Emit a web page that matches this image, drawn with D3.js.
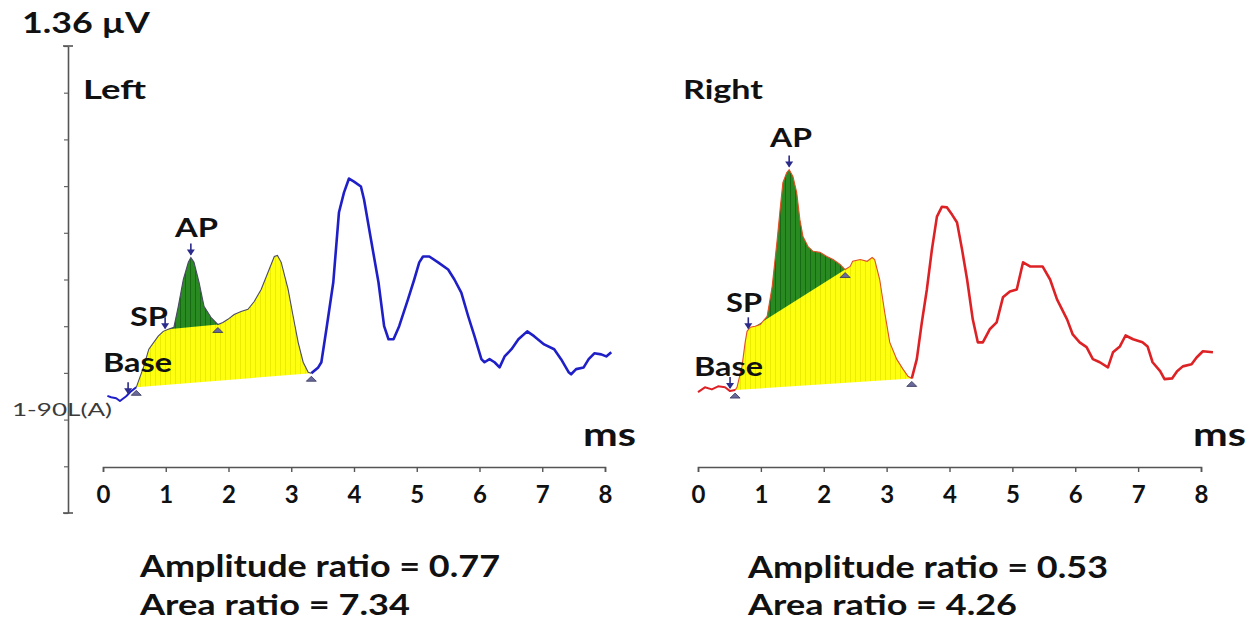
<!DOCTYPE html>
<html><head><meta charset="utf-8">
<script src="https://cdn.jsdelivr.net/npm/d3@7/dist/d3.min.js"></script>
<style>body{margin:0;background:#fff}svg{display:block}</style>
</head><body>
<svg id="chart" width="1253" height="622"></svg>
<script>
// ---- data (time in ms, amplitude in µV) ----
const leftTime = [0.07,0.13,0.21,0.27,0.37,0.45,0.53,0.65,0.73,0.88,0.96,1.04,1.13,1.20,1.28,1.36,1.40,1.45,1.53,1.61,1.72,1.83,1.91,1.99,2.09,2.20,2.31,2.41,2.52,2.63,2.73,2.78,2.84,2.95,3.03,3.11,3.19,3.27,3.32,3.43,3.48,3.56,3.67,3.76,3.84,3.92,4.00,4.11,4.16,4.27,4.39,4.48,4.55,4.63,4.72,4.86,4.96,5.04,5.10,5.20,5.34,5.50,5.60,5.71,5.82,5.92,6.03,6.08,6.16,6.24,6.32,6.40,6.51,6.62,6.76,6.87,7.03,7.19,7.30,7.42,7.46,7.54,7.66,7.74,7.83,7.94,8.02,8.10];
const leftAmp = [0.341,0.337,0.334,0.326,0.340,0.355,0.366,0.427,0.477,0.515,0.529,0.535,0.541,0.602,0.680,0.730,0.744,0.730,0.672,0.602,0.570,0.549,0.555,0.564,0.578,0.587,0.593,0.616,0.651,0.701,0.747,0.750,0.730,0.651,0.573,0.497,0.439,0.410,0.407,0.424,0.439,0.535,0.672,0.875,0.933,0.974,0.965,0.951,0.913,0.797,0.672,0.544,0.506,0.506,0.544,0.622,0.680,0.730,0.747,0.747,0.730,0.709,0.680,0.642,0.573,0.515,0.448,0.439,0.448,0.439,0.424,0.456,0.477,0.506,0.529,0.515,0.491,0.477,0.448,0.410,0.404,0.419,0.424,0.448,0.465,0.462,0.456,0.468];

const rightTime = [0.00,0.11,0.22,0.32,0.43,0.51,0.59,0.62,0.70,0.75,0.78,0.83,0.91,0.99,1.10,1.18,1.26,1.31,1.35,1.41,1.45,1.51,1.57,1.62,1.67,1.75,1.83,1.94,2.05,2.15,2.26,2.34,2.42,2.46,2.58,2.69,2.77,2.81,2.89,2.97,3.05,3.16,3.26,3.34,3.40,3.48,3.56,3.64,3.72,3.80,3.88,3.96,4.04,4.12,4.20,4.28,4.37,4.45,4.53,4.64,4.75,4.85,4.96,5.07,5.17,5.28,5.39,5.48,5.60,5.71,5.87,5.96,6.07,6.18,6.28,6.39,6.52,6.60,6.71,6.80,6.92,7.07,7.15,7.23,7.35,7.42,7.54,7.62,7.71,7.85,7.93,8.03,8.19];
const rightAmp = [0.352,0.366,0.360,0.369,0.366,0.355,0.358,0.366,0.427,0.497,0.529,0.541,0.544,0.549,0.573,0.660,0.797,0.892,0.962,0.991,1.000,0.980,0.933,0.855,0.805,0.776,0.762,0.759,0.747,0.738,0.724,0.709,0.718,0.733,0.738,0.733,0.744,0.738,0.680,0.584,0.497,0.448,0.419,0.398,0.392,0.448,0.555,0.651,0.767,0.863,0.892,0.890,0.869,0.846,0.767,0.680,0.564,0.497,0.497,0.535,0.555,0.628,0.645,0.651,0.730,0.718,0.718,0.718,0.680,0.622,0.564,0.520,0.497,0.483,0.448,0.439,0.424,0.468,0.485,0.517,0.506,0.497,0.485,0.439,0.413,0.390,0.392,0.413,0.427,0.433,0.453,0.471,0.468];

const xTicks = [0,1,2,3,4,5,6,7,8];
const yTicks = [0,0.136,0.272,0.408,0.544,0.68,0.816,0.952,1.088,1.224,1.36];
// landmark times [Base, SP, AP, AP end, trough]
const leftMarks = [0.53, 1.04, 1.40, 1.83, 3.32];
const rightMarks = [0.59, 0.91, 1.45, 2.34, 3.40];
const leftArrowTimes = [0.40, 0.99, 1.40];
const rightArrowTimes = [0.51, 0.80, 1.45];
const markLabels = ["Base","SP","AP"];
const panelTitles = ["Left","Right"];
const ampRatios = ["0.77","0.53"];
const areaRatios = ["7.34","4.26"];

const svg = d3.select("#chart");
const FONT = "Lato, 'Open Sans', 'DejaVu Sans', sans-serif";

const defs = svg.append("defs");
function stripe(id, base, line){
  const p = defs.append("pattern").attr("id",id).attr("patternUnits","userSpaceOnUse")
    .attr("width",5).attr("height",10);
  p.append("rect").attr("width",5).attr("height",10).attr("fill",base);
  p.append("line").attr("x1",0.5).attr("x2",0.5).attr("y1",0).attr("y2",10)
    .attr("stroke",line).attr("stroke-width",1);
}
stripe("yel","#ffff10","#ecec00");
stripe("grn","#2a8a22","#176a14");

const y = d3.scaleLinear().domain([0,1.36]).range([513,46]);

// vertical scale bar
const yAx = svg.append("g").attr("transform","translate(68,0)")
  .call(d3.axisLeft(y).tickValues(yTicks).tickSize(4).tickSizeOuter(0).tickFormat(""));
yAx.select(".domain").attr("stroke","#555").attr("stroke-width",1.6);
yAx.selectAll(".tick line").attr("stroke","#666").attr("stroke-width",1.2);
svg.append("line").attr("x1",63).attr("x2",73).attr("y1",46).attr("y2",46).attr("stroke","#555").attr("stroke-width",1.6);
svg.append("line").attr("x1",63).attr("x2",73).attr("y1",513).attr("y2",513).attr("stroke","#555").attr("stroke-width",1.6);

function txt(s, x, yy, size, w, opts={}){
  const t = svg.append("text").attr("x",x).attr("y",yy).text(s)
    .attr("font-family",FONT).attr("font-size",size)
    .attr("font-weight",opts.weight||700).attr("fill",opts.fill||"#111");
  if (w) t.attr("textLength",w).attr("lengthAdjust","spacingAndGlyphs");
  return t;
}
txt("1.36 µV",22,33,29,128);
txt("1-90L(A)",12,416,17,100,{weight:400,fill:"#3a3a3a"});

function panel(cfg){
  const x = d3.scaleLinear().domain([0,8]).range(cfg.range);
  const pts = cfg.time.map((t,i)=>[t,cfg.amp[i]]);
  const idx = t => d3.minIndex(cfg.time, d=>Math.abs(d-t));
  const [iBase,iSP,iAP,iEnd,iTr] = cfg.marks.map(idx);
  const line = d3.line().x(d=>x(d[0])).y(d=>y(d[1]));

  // x axis
  const xa = svg.append("g").attr("transform",`translate(0,${cfg.axisY})`)
    .call(d3.axisBottom(x).tickValues(xTicks).tickSize(5).tickSizeOuter(5).tickPadding(14));
  xa.select(".domain").attr("stroke","#555").attr("stroke-width",1.6);
  xa.selectAll(".tick line").attr("stroke","#555").attr("stroke-width",1.4);
  xa.selectAll(".tick text").attr("font-family",FONT).attr("font-weight",700)
    .attr("font-size",24).attr("fill","#111");

  // yellow area (Base -> trough)
  const yelPts = pts.slice(iBase, iTr+1);
  svg.append("path").attr("d", line(yelPts)+"Z").attr("fill","url(#yel)").attr("stroke","none");
  // green area (SP -> AP end)
  const grnPts = pts.slice(iSP, iEnd+1);
  svg.append("path").attr("d", line(grnPts)+"Z").attr("fill","url(#grn)").attr("stroke","none");

  // outlines
  svg.append("path").attr("d", line(yelPts)).attr("fill","none")
    .attr("stroke",cfg.thin).attr("stroke-width",1.1);
  svg.append("path").attr("d", line(pts.slice(0,iBase+1))).attr("fill","none")
    .attr("stroke",cfg.color).attr("stroke-width",2).attr("stroke-linejoin","round");
  svg.append("path").attr("d", line(pts.slice(iTr))).attr("fill","none")
    .attr("stroke",cfg.color).attr("stroke-width",2.6).attr("stroke-linejoin","round");

  // triangle markers at base, AP end, trough
  [iBase,iEnd,iTr].forEach(i=>{
    const px = x(cfg.time[i]), py = y(cfg.amp[i]) + 4;
    svg.append("path").attr("d",`M${px-5},${py+4}L${px+5},${py+4}L${px},${py-1}Z`)
      .attr("fill","#6a6a9a").attr("stroke","#33335a").attr("stroke-width",0.8);
  });

  // arrows + labels
  cfg.arrows.forEach((t,k)=>{
    const i = idx(t);
    const px = x(t);
    const tip = y(cfg.amp[i]) - 3;
    svg.append("line").attr("x1",px).attr("x2",px).attr("y1",tip-11).attr("y2",tip)
      .attr("stroke","#2b2b8c").attr("stroke-width",1.6);
    svg.append("path").attr("d",`M${px-4},${tip-5}L${px+4},${tip-5}L${px},${tip+1}Z`)
      .attr("fill","#2b2b8c");
    const L = cfg.labels[k];
    txt(markLabels[k], L[0], L[1], 26, L[2]);
  });

  txt(panelTitles[cfg.k], cfg.title[0], cfg.title[1], 26, cfg.title[2]);
  txt("ms", cfg.ms, 446, 33, 53);
  txt("Amplitude ratio = " + ampRatios[cfg.k], cfg.textX, cfg.textY[0], 30, 360);
  txt("Area ratio = " + areaRatios[cfg.k], cfg.textX, cfg.textY[1], 29, cfg.areaW);
}

panel({k:0, time:leftTime, amp:leftAmp, range:[103,605], axisY:467, marks:leftMarks,
  arrows:leftArrowTimes, color:"#1f1fc8", thin:"#4a4a6a",
  labels:[[103,372,69],[130,326,38],[175,237,43]],
  title:[83,99,63], ms:583, textX:140, textY:[577,615], areaW:270});
panel({k:1, time:rightTime, amp:rightAmp, range:[698,1201], axisY:467, marks:rightMarks,
  arrows:rightArrowTimes, color:"#dd2226", thin:"#e0502a",
  labels:[[694,376,69],[726,312,36],[770,147,42]],
  title:[683,99,80], ms:1193, textX:748, textY:[578,615], areaW:269});
</script>
</body></html>
